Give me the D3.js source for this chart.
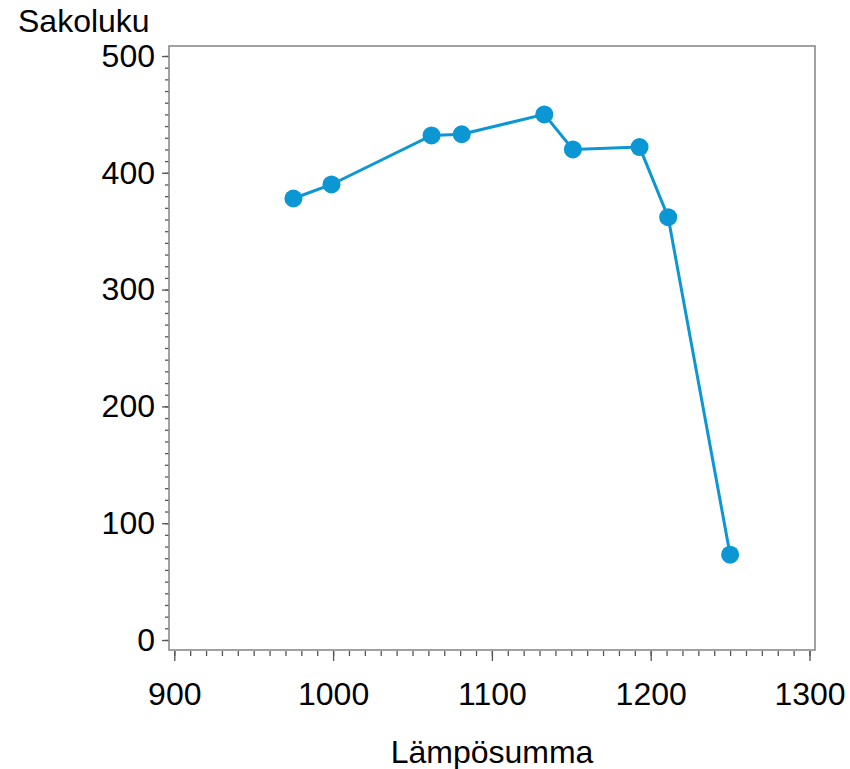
<!DOCTYPE html>
<html>
<head>
    <meta charset="utf-8">
    <title>Sakoluku</title>
    <script src="https://d3js.org/d3.v7.min.js"></script>
    <style>
        body { margin: 0; background: #fff; }
        text { font-family: 'Liberation Sans', Arial, sans-serif; fill: #000; }
        .axis text { font-size: 32px; }
        .axis path { display: none; }
        .axis line { stroke: #555; stroke-width: 1.3; }
        .frame { fill: none; stroke: #8a8a8a; stroke-width: 1.6; }
        .line { fill: none; stroke: #0b96d4; stroke-width: 3; }
        .dot { fill: #0b96d4; }
    </style>
</head>
<body>
<script>
    // data
    var lampo    = [975, 999, 1062, 1081, 1133, 1151, 1193, 1211, 1250];
    var sakoluku = [378, 390, 432, 433, 450, 420, 422, 362, 73];
    var xTicks = [900, 1000, 1100, 1200, 1300];
    var yTicks = [0, 100, 200, 300, 400, 500];

    var width = 850, height = 769;
    var frame = {left: 169, right: 815, top: 46, bottom: 650};

    var svg = d3.select("body").append("svg")
        .attr("width", width)
        .attr("height", height);

    var x = d3.scaleLinear().domain([900, 1300]).range([174.3, 809.5]);
    var y = d3.scaleLinear().domain([0, 500]).range([640, 56]);

    var data = lampo.map(function(d, i) { return {x: d, y: sakoluku[i]}; });

    // minor ticks
    svg.append("g")
        .attr("class", "axis")
        .attr("transform", "translate(" + frame.left + ",0)")
        .call(d3.axisLeft(y).tickValues(d3.range(0, 501, 10)).tickSize(4).tickFormat(""));
    svg.append("g")
        .attr("class", "axis")
        .attr("transform", "translate(0," + (frame.bottom + 1) + ")")
        .call(d3.axisBottom(x).tickValues(d3.range(900, 1301, 10)).tickSize(5).tickFormat(""));

    // major ticks
    svg.append("g")
        .attr("class", "axis")
        .attr("transform", "translate(" + frame.left + ",0)")
        .call(d3.axisLeft(y).tickValues(yTicks).tickSize(7).tickPadding(7).tickFormat(d3.format("d")));
    svg.append("g")
        .attr("class", "axis")
        .attr("transform", "translate(0," + (frame.bottom + 1) + ")")
        .call(d3.axisBottom(x).tickValues(xTicks).tickSize(10).tickPadding(21).tickFormat(d3.format("d")));

    svg.append("rect")
        .attr("class", "frame")
        .attr("x", frame.left)
        .attr("y", frame.top)
        .attr("width", frame.right - frame.left)
        .attr("height", frame.bottom - frame.top);

    var line = d3.line()
        .x(function(d) { return x(d.x); })
        .y(function(d) { return y(d.y); });

    svg.append("path")
        .datum(data)
        .attr("class", "line")
        .attr("d", line);

    svg.selectAll(".dot")
        .data(data)
        .enter().append("circle")
        .attr("class", "dot")
        .attr("cx", function(d) { return x(d.x); })
        .attr("cy", function(d) { return y(d.y); })
        .attr("r", 9);

    svg.append("text")
        .attr("x", 18)
        .attr("y", 32)
        .style("font-size", "32px")
        .text("Sakoluku");

    svg.append("text")
        .attr("x", (frame.left + frame.right) / 2)
        .attr("y", 763)
        .attr("text-anchor", "middle")
        .style("font-size", "32px")
        .text("Lämpösumma");
</script>
</body>
</html>
